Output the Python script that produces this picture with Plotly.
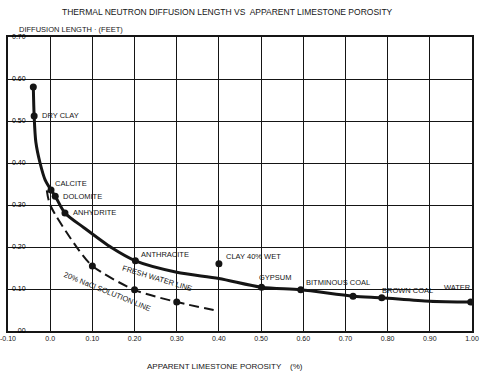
import plotly.graph_objects as go

# Fresh water line (solid curve) readings
fresh_x = [-0.040, -0.038, -0.034, -0.024, -0.012, 0.002, 0.012, 0.035, 0.080, 0.146, 0.202,
           0.30, 0.40, 0.501, 0.594, 0.718, 0.786, 0.90, 0.997]
fresh_y = [0.581, 0.512, 0.450, 0.400, 0.360, 0.336, 0.321, 0.281, 0.246, 0.198, 0.167,
           0.140, 0.125, 0.104, 0.098, 0.083, 0.079, 0.071, 0.069]

# 20% NaCl solution line (dashed) readings
nacl_x = [-0.008, 0.000, 0.064, 0.100, 0.200, 0.300, 0.398]
nacl_y = [0.335, 0.300, 0.198, 0.155, 0.098, 0.069, 0.048]

# Labelled minerals on the fresh water line
min_names = ["", "DRY CLAY", "CALCITE", "DOLOMITE", "ANHYDRITE", "ANTHRACITE",
             "GYPSUM", "BITMINOUS COAL", "", "BROWN COAL", "WATER"]
min_x = [-0.040, -0.038, 0.002, 0.012, 0.035, 0.202, 0.501, 0.594, 0.718, 0.786, 0.997]
min_y = [0.581, 0.512, 0.336, 0.321, 0.281, 0.167, 0.104, 0.098, 0.083, 0.079, 0.069]

# Isolated point
clay_x = [0.40]
clay_y = [0.160]

# Points on NaCl line
nacl_pts_x = [0.10, 0.20, 0.30]
nacl_pts_y = [0.155, 0.098, 0.069]

x_tickvals = [-0.1, 0.0, 0.1, 0.2, 0.3, 0.4, 0.5, 0.6, 0.7, 0.8, 0.9, 1.0]
x_ticktext = ["-0.10", "0.0", "0.10", "0.20", "0.30", "0.40", "0.50", "0.60",
              "0.70", "0.80", "0.90", "1.00"]
y_tickvals = [0.0, 0.1, 0.2, 0.3, 0.4, 0.5, 0.6, 0.7]
y_ticktext = ["00", "0.10", "0.20", "0.30", "0.40", "0.50", "0.60", "0.70"]

INK = "#151515"
FONT = "Liberation Sans"

fig = go.Figure()
fig.add_trace(go.Scatter(x=fresh_x, y=fresh_y, mode="lines",
                         line=dict(color=INK, width=3, shape="spline", smoothing=0.8),
                         hoverinfo="skip", showlegend=False))
fig.add_trace(go.Scatter(x=nacl_x, y=nacl_y, mode="lines",
                         line=dict(color=INK, width=2, dash="10px,5px", shape="spline", smoothing=0.8),
                         hoverinfo="skip", showlegend=False))
fig.add_trace(go.Scatter(x=min_x, y=min_y, mode="markers",
                         marker=dict(color=INK, size=7), showlegend=False))
fig.add_trace(go.Scatter(x=clay_x, y=clay_y, mode="markers",
                         marker=dict(color=INK, size=7), showlegend=False))
fig.add_trace(go.Scatter(x=nacl_pts_x, y=nacl_pts_y, mode="markers",
                         marker=dict(color=INK, size=7), showlegend=False))

# point labels (offsets in pixels)
label_specs = {
    "DRY CLAY": (6, 0),
    "CALCITE": (2, -6),
    "DOLOMITE": (6, 0),
    "ANHYDRITE": (6, 0),
    "ANTHRACITE": (4, -6),
    "GYPSUM": (-5, -10),
    "BITMINOUS COAL": (3, -7),
    "BROWN COAL": (-2, -7),
    "WATER": (-29, -15),
}
for name, x, y in zip(min_names, min_x, min_y):
    if not name:
        continue
    dx, dy = label_specs[name]
    fig.add_annotation(x=x, y=y, text=name, showarrow=False, xanchor="left",
                       yanchor="middle", xshift=dx, yshift=-dy,
                       font=dict(family=FONT, size=7.5, color=INK))
fig.add_annotation(x=clay_x[0], y=clay_y[0], text="CLAY 40% WET", showarrow=False,
                   xanchor="left", yanchor="middle", xshift=5, yshift=7,
                   font=dict(family=FONT, size=7.5, color=INK))

fig.add_annotation(x=0.255, y=0.126, text="FRESH WATER LINE", showarrow=False,
                   textangle=17, font=dict(family=FONT, size=7.5, color=INK))
fig.add_annotation(x=0.135, y=0.095, text="20% NaCl SOLUTION LINE", showarrow=False,
                   textangle=22, font=dict(family=FONT, size=7.5, color=INK))

# titles
fig.add_annotation(xref="paper", yref="paper", x=0.474, y=1.085,
                   text="THERMAL NEUTRON DIFFUSION LENGTH VS  APPARENT LIMESTONE POROSITY",
                   showarrow=False, xanchor="center", yanchor="middle",
                   font=dict(family=FONT, size=8.5, color=INK))
fig.add_annotation(xref="paper", yref="paper", x=0.019, y=1.027,
                   text="DIFFUSION LENGTH · (FEET)", showarrow=False,
                   xanchor="left", yanchor="middle",
                   font=dict(family=FONT, size=7.5, color=INK))
fig.add_annotation(xref="paper", yref="paper", x=0.468, y=-0.122,
                   text="APPARENT LIMESTONE POROSITY &nbsp;&nbsp; (%)", showarrow=False,
                   xanchor="center", yanchor="middle",
                   font=dict(family=FONT, size=8, color=INK))

fig.update_xaxes(range=[-0.1, 1.0], tickvals=x_tickvals, ticktext=x_ticktext,
                 showgrid=True, gridcolor=INK, gridwidth=1, zeroline=False,
                 showline=True, linecolor=INK, linewidth=2, mirror=True,
                 ticks="", automargin=False,
                 tickfont=dict(family=FONT, size=7, color=INK))
fig.update_yaxes(range=[0.0, 0.7], tickvals=y_tickvals, ticktext=y_ticktext,
                 showgrid=True, gridcolor=INK, gridwidth=1, zeroline=False,
                 showline=True, linecolor=INK, linewidth=2, mirror=True,
                 ticks="", automargin=False, ticklabelstandoff=-21,
                 tickfont=dict(family=FONT, size=7, color="#000000"))

fig.update_layout(width=488, height=375,
                  margin=dict(l=8, r=16, t=37, b=44, autoexpand=False),
                  paper_bgcolor="white", plot_bgcolor="white",
                  showlegend=False)

fig.write_html("out.html", config={"displayModeBar": False},
               post_script="document.body.style.margin='0px';")
